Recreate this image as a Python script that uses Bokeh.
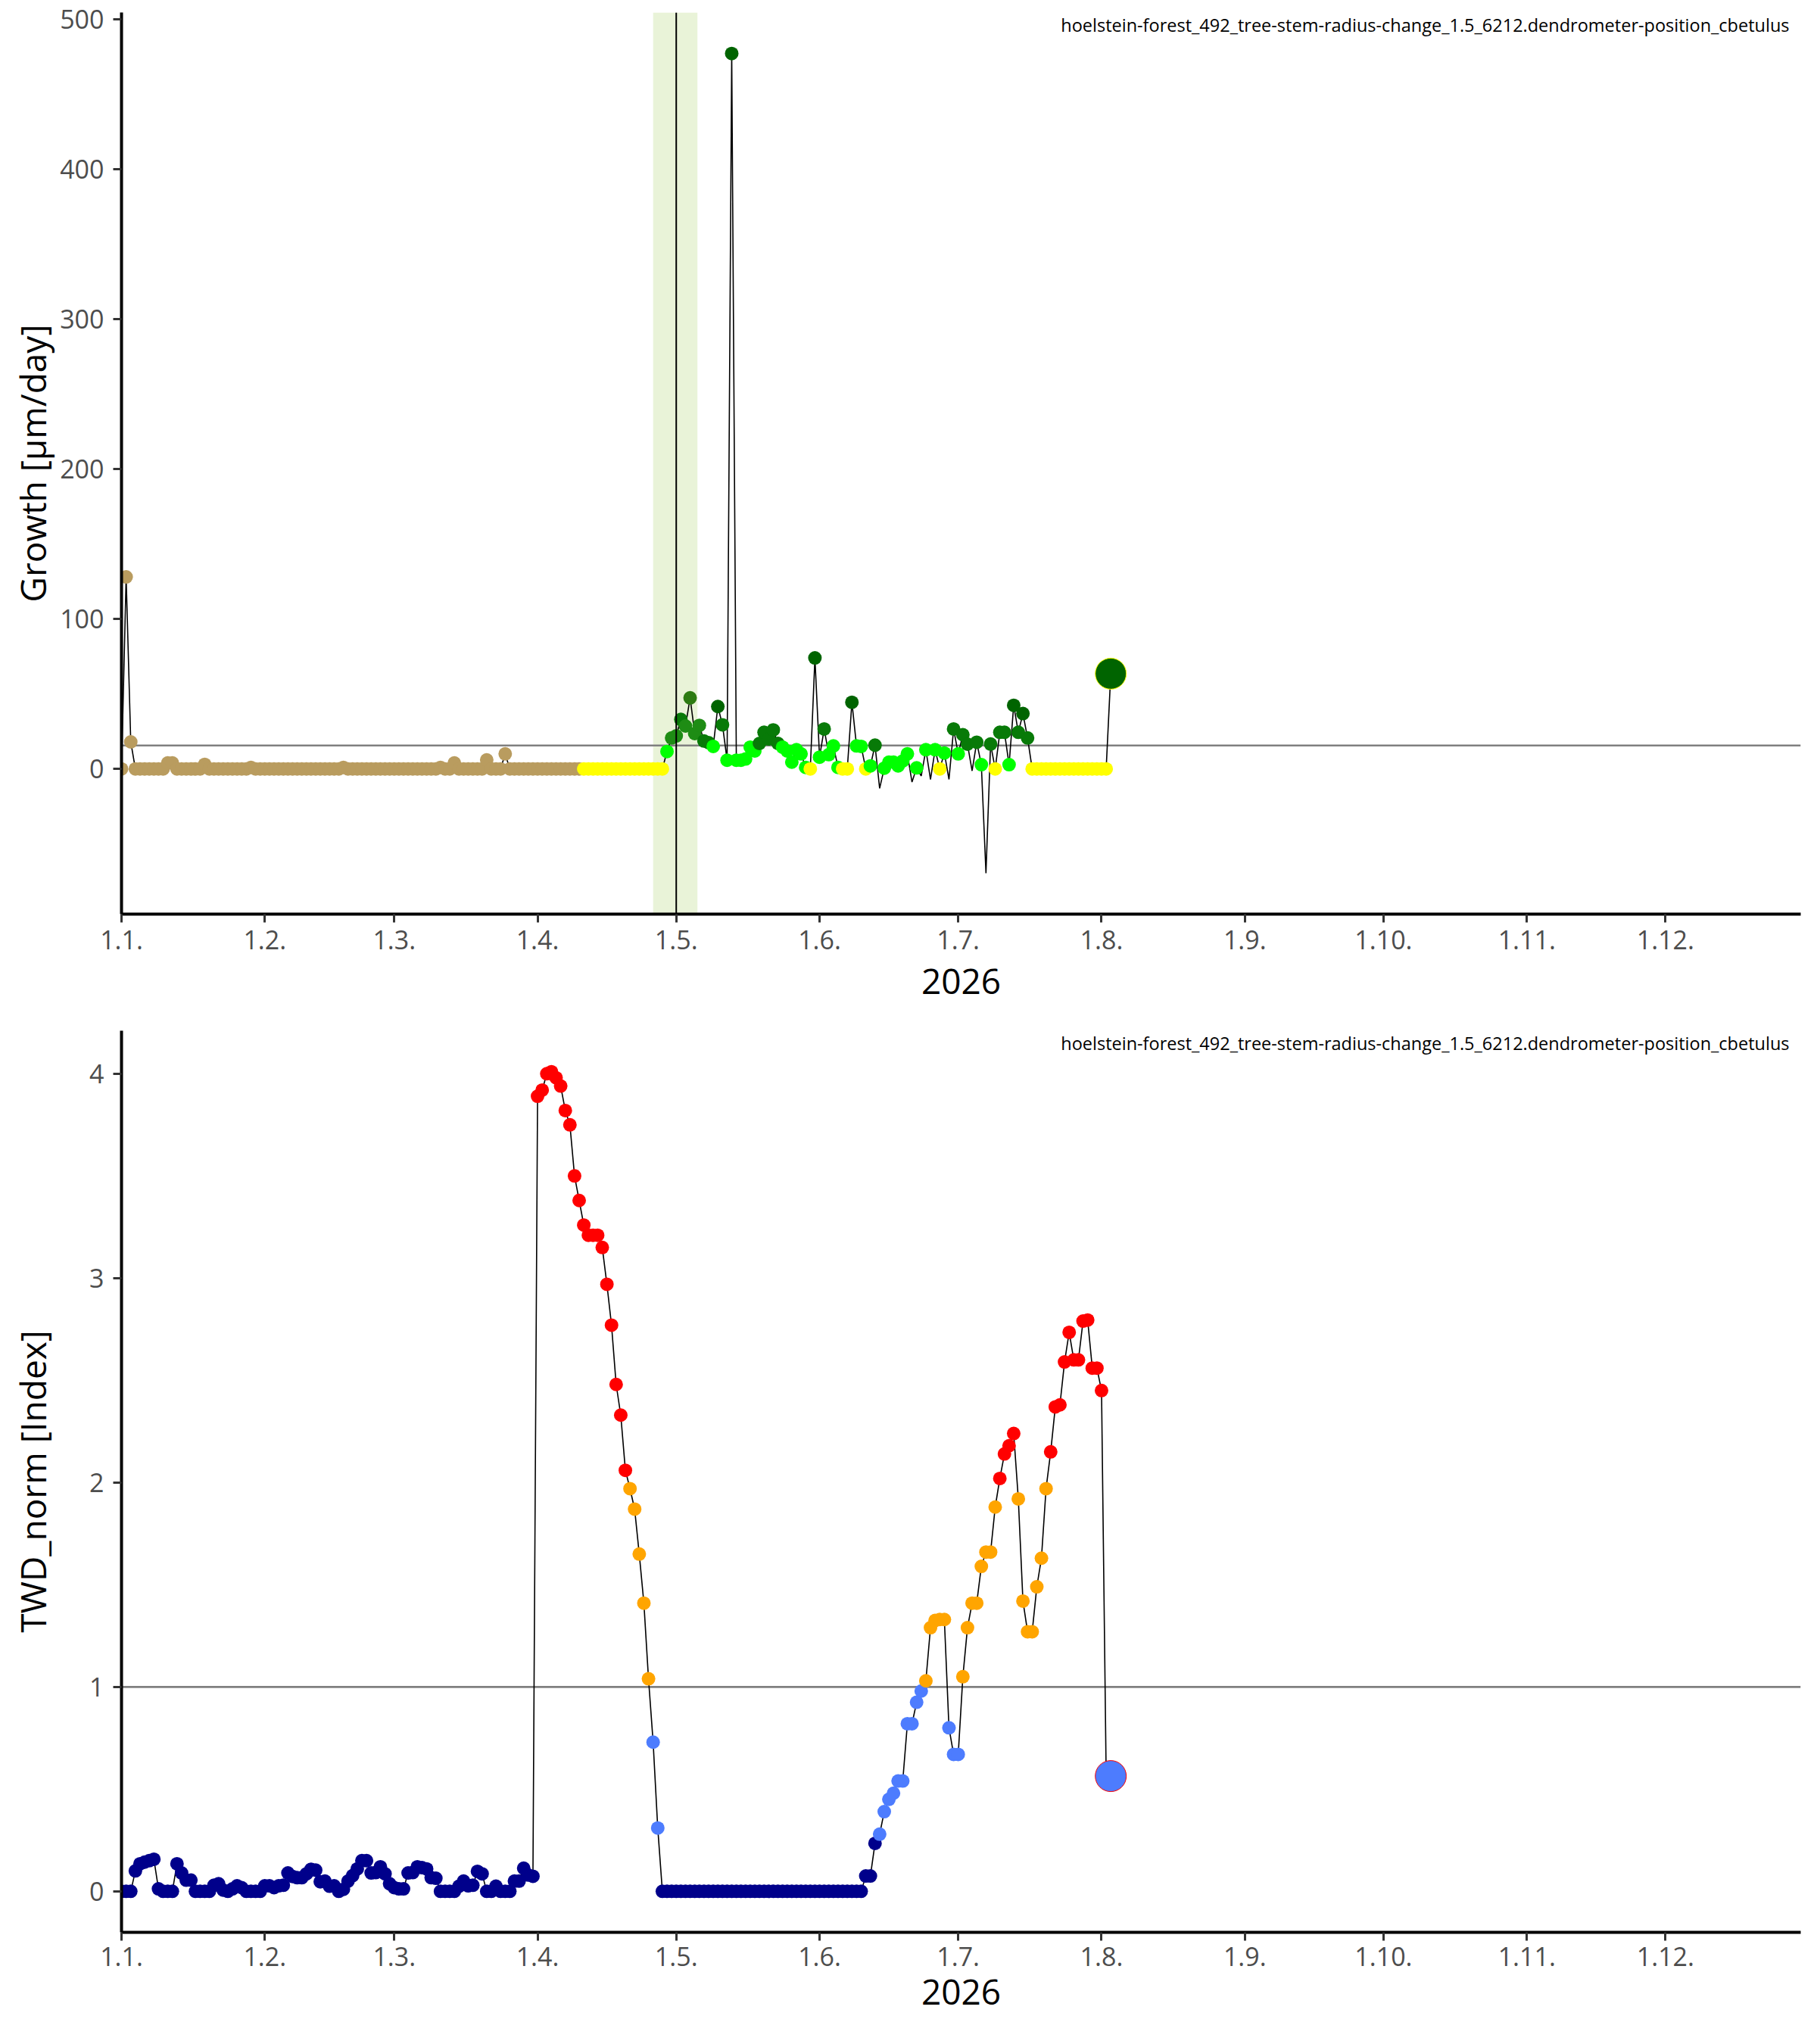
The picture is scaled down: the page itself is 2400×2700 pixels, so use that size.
import pandas as pd
from bokeh.plotting import figure
from bokeh.layouts import column
from bokeh.models import Span, BoxAnnotation, Label, FixedTicker, Range1d
from bokeh.embed import file_html
from bokeh.resources import INLINE

# ---------------- data ----------------
first_day = "2026-01-01"
axis_end = "2026-12-30 06:00"
month_starts = ["2026-01-01", "2026-02-01", "2026-03-01", "2026-04-01", "2026-05-01", "2026-06-01",
                "2026-07-01", "2026-08-01", "2026-09-01", "2026-10-01", "2026-11-01", "2026-12-01"]
month_labels = ["1.1.", "1.2.", "1.3.", "1.4.", "1.5.", "1.6.",
                "1.7.", "1.8.", "1.9.", "1.10.", "1.11.", "1.12."]

station = "hoelstein-forest_492_tree-stem-radius-change_1.5_6212.dendrometer-position_cbetulus"

# daily growth [µm/day], one value per day from 1 Jan
growth = [
    0, 128, 18, 0, 0, 0, 0, 0, 0, 0,
    4, 4, 0, 0, 0, 0, 0, 0, 3, 0,
    0, 0, 0, 0, 0, 0, 0, 0, 1, 0,
    0, 0, 0, 0, 0, 0, 0, 0, 0, 0,
    0, 0, 0, 0, 0, 0, 0, 0, 1, 0,
    0, 0, 0, 0, 0, 0, 0, 0, 0, 0,
    0, 0, 0, 0, 0, 0, 0, 0, 0, 1,
    0, 0, 4, 0, 0, 0, 0, 0, 0, 6,
    0, 0, 0, 10, 0, 0, 0, 0, 0, 0,
    0, 0, 0, 0, 0, 0, 0, 0, 0, 0,
    0, 0, 0, 0, 0, 0, 0, 0, 0, 0,
    0, 0, 0, 0, 0, 0, 0, 0, 11.6, 20.6,
    22, 33, 28.6, 47.4, 23.6, 29, 18.6, 17.5, 15, 41.6,
    29.4, 5.8, 477, 5.8, 5.8, 6.6, 14.5, 12, 17, 24.4,
    20, 26, 17, 14.5, 12, 4.5, 12.8, 10, 1, 0,
    74, 7.8, 26.6, 9.5, 15.3, 1, 0, 0, 44.4, 15.3,
    15, 0, 2, 15.8, -13, 0.5, 4.5, 4.5, 2, 5.3,
    10, -8.8, 0.7, -4.7, 12.8, -7, 12.8, 0, 10.6, -7,
    26.6, 10, 22.8, 16.5, -1.3, 17.8, 2.8, -69.5, 16.6, 0,
    24.4, 24.4, 2.8, 42.4, 24.4, 36.9, 20.6, 0, 0, 0,
    0, 0, 0, 0, 0, 0, 0, 0, 0, 0,
    0, 0, 0, 0, 63.5,
]
# growth phase class per day: T dormant, Y no growth, L low growth,
# 1-4 growth (shades), N no marker
growth_class = (
    "TTTTTTTTTT" "TTTTTTTTTT" "TTTTTTTTTT" "TTTTTTTTTT" "TTTTTTTTTT"
    "TTTTTTTTTT" "TTTTTTTTTT" "TTTTTTTTTT" "TTTTTTTTTT" "TTTTTTTTTT"
    "YYYYYYYYYY" "YYYYYYYYL3" "32343322L1" "2L1LLLLL22" "222LLLLLLY"
    "1L2LLLYY1L" "LYL2NLLLLL" "LNLNLNLYLN" "2L22N2LN2Y" "22L1212YYY"
    "YYYYYYYYYY" "YYYY1"
)
growth_palette = {"T": "#B99C5F", "Y": "#FFFF00", "L": "#00FF00", "1": "#006400",
                  "2": "#087A08", "3": "#1E8C14", "4": "#2D7B12"}
growth_ref = 15.6

# normalised tree water deficit, one value per day from 1 Jan
twd = [
    0, 0, 0, 0.10, 0.135, 0.143, 0.15, 0.157, 0.012, 0,
    0, 0, 0.135, 0.09, 0.055, 0.055, 0, 0, 0, 0,
    0.03, 0.037, 0.006, 0, 0.012, 0.027, 0.018, 0, 0, 0,
    0, 0.027, 0.027, 0.018, 0.027, 0.03, 0.09, 0.073, 0.067, 0.067,
    0.086, 0.108, 0.104, 0.047, 0.05, 0.025, 0.027, 0, 0.01, 0.05,
    0.077, 0.11, 0.15, 0.15, 0.09, 0.092, 0.12, 0.086, 0.037, 0.018,
    0.012, 0.012, 0.09, 0.092, 0.12, 0.116, 0.11, 0.067, 0.064, 0,
    0, 0, 0, 0.025, 0.05, 0.027, 0.03, 0.098, 0.086, 0,
    0, 0.025, 0, 0, 0, 0.05, 0.05, 0.113, 0.08, 0.074,
    3.89, 3.92, 4.0, 4.01, 3.98, 3.94, 3.82, 3.75, 3.50, 3.38,
    3.26, 3.21, 3.21, 3.21, 3.15, 2.97, 2.77, 2.48, 2.33, 2.06,
    1.97, 1.87, 1.65, 1.41, 1.04, 0.73, 0.31, 0, 0, 0,
    0, 0, 0, 0, 0, 0, 0, 0, 0, 0,
    0, 0, 0, 0, 0, 0, 0, 0, 0, 0,
    0, 0, 0, 0, 0, 0, 0, 0, 0, 0,
    0, 0, 0, 0, 0, 0, 0, 0, 0, 0,
    0, 0.075, 0.075, 0.235, 0.28, 0.39, 0.45, 0.48, 0.54, 0.54,
    0.82, 0.82, 0.925, 0.98, 1.03, 1.29, 1.325, 1.33, 1.33, 0.80,
    0.67, 0.67, 1.05, 1.29, 1.41, 1.41, 1.59, 1.66, 1.66, 1.88,
    2.02, 2.14, 2.18, 2.24, 1.92, 1.42, 1.27, 1.27, 1.49, 1.63,
    1.97, 2.15, 2.37, 2.38, 2.59, 2.735, 2.6, 2.6, 2.79, 2.795,
    2.56, 2.56, 2.45, 0.57, 0.564,
]
twd_breaks = [0.25, 1.0, 2.0]
twd_colors_by_class = ["#00008B", "#4D7CFE", "#FFA500", "#FF0000"]
twd_ref = 1.0

event_day = "2026-05-01"
event_band = ["2026-04-26", "2026-05-05 14:00"]

# ---------------- helpers ----------------
def ms(d):
    return pd.Timestamp(d).value / 1e6

FONT = "Open Sans"


def padded(vals):
    lo, hi = min(vals), max(vals)
    pad = (hi - lo) * 0.05
    return Range1d(lo - pad, hi + pad)


def make_fig(values, colors, last_outline, ylabel, yticks, ref, top_border, bottom_border,
             ytitle_standoff, xlab_standoff, xtitle_standoff, show_event):
    dates = pd.date_range(first_day, periods=len(values), freq="D")
    p = figure(x_axis_type="datetime", frame_width=2218, frame_height=1191,
               min_border_left=160, min_border_right=4, min_border_top=top_border,
               min_border_bottom=bottom_border,
               x_range=Range1d(ms(first_day), ms(axis_end)), y_range=padded(values),
               output_backend="svg", toolbar_location=None)
    p.grid.visible = False
    p.outline_line_color = None
    p.background_fill_color = "white"
    p.border_fill_color = "white"

    if show_event:
        p.add_layout(BoxAnnotation(left=ms(event_band[0]), right=ms(event_band[1]),
                                   fill_color="#E9F3D8", fill_alpha=1.0, line_color=None,
                                   level="underlay"))
    p.add_layout(Span(location=ref, dimension="width", line_color="#808080",
                      line_width=2.6, level="underlay"))

    p.line(dates, values, line_color="black", line_width=1.6)
    xs = [d for d, c in zip(dates[:-1], colors[:-1]) if c is not None]
    ys = [v for v, c in zip(values[:-1], colors[:-1]) if c is not None]
    cs = [c for c in colors[:-1] if c is not None]
    p.scatter(xs, ys, size=18, fill_color=cs, line_color=None)
    p.scatter([dates[-1]], [values[-1]], size=41, fill_color=colors[-1],
              line_color=last_outline, line_width=1.0)

    if show_event:
        p.add_layout(Span(location=ms(event_day), dimension="height", line_color="black",
                          line_width=2, level="overlay"))

    p.add_layout(Label(x=ms(axis_end), y=p.y_range.end, text=station, text_align="right",
                       text_baseline="top", x_offset=-15, y_offset=0,
                       text_font=FONT, text_font_size="23.5px", text_color="black"))

    p.xaxis.ticker = FixedTicker(ticks=[ms(d) for d in month_starts])
    p.xaxis.major_label_overrides = {ms(d): lab for d, lab in zip(month_starts, month_labels)}
    p.yaxis.ticker = FixedTicker(ticks=yticks)
    p.xaxis.axis_label = "2026"
    p.yaxis.axis_label = ylabel
    for ax in (p.xaxis[0], p.yaxis[0]):
        ax.axis_line_width = 4
        ax.axis_line_color = "black"
        ax.major_tick_line_color = "#333333"
        ax.major_tick_line_width = 3
        ax.major_tick_out = 11
        ax.major_tick_in = 0
        ax.minor_tick_line_color = None
        ax.major_label_text_font = FONT
        ax.major_label_text_font_size = "34px"
        ax.major_label_text_color = "#4D4D4D"
        ax.axis_label_text_font = FONT
        ax.axis_label_text_font_size = "46px"
        ax.axis_label_text_font_style = "normal"
        ax.axis_label_text_color = "black"
    p.xaxis.major_label_standoff = xlab_standoff
    p.xaxis.axis_label_standoff = xtitle_standoff
    p.yaxis.major_label_standoff = 12
    p.yaxis.axis_label_standoff = ytitle_standoff
    return p


growth_colors = [growth_palette.get(c) for c in growth_class]
twd_colors = [twd_colors_by_class[sum(v >= b for b in twd_breaks)] for v in twd]

p1 = make_fig(growth, growth_colors, "#FFFF00", "Growth [µm/day]",
              [0, 100, 200, 300, 400, 500], growth_ref, 16, 140, 2, 10, 23, True)
p2 = make_fig(twd, twd_colors, "#FF0000", "TWD_norm [Index]",
              [0, 1, 2, 3, 4], twd_ref, 14, 134, 41, 8, 15, False)

layout = column(p1, p2)
open("out.html", "w").write(file_html(layout, INLINE))
